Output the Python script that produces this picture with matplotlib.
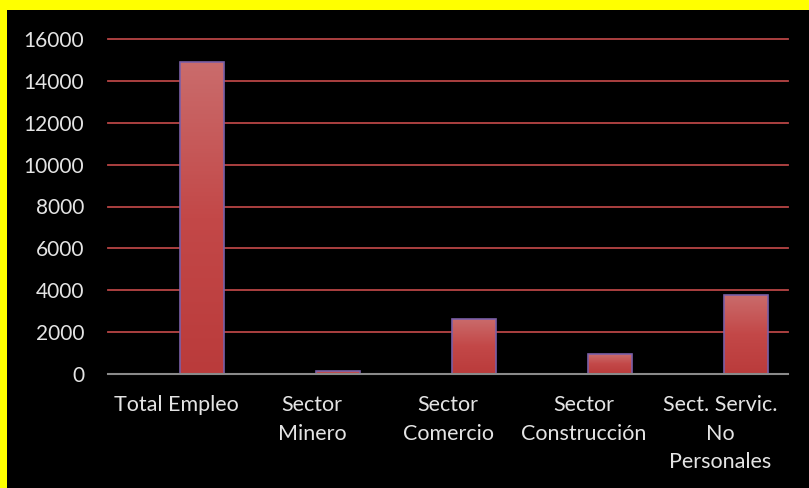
import matplotlib
matplotlib.use("Agg")
import matplotlib.pyplot as plt
import numpy as np
from matplotlib.patches import Rectangle

categories = ["Total Empleo", "Sector\nMinero", "Sector\nComercio",
              "Sector\nConstrucción", "Sect. Servic.\nNo\nPersonales"]
values = [14900, 140, 2640, 940, 3780]
yticks = [0, 2000, 4000, 6000, 8000, 10000, 12000, 14000, 16000]

plt.rcParams["font.family"] = ["Lato", "DejaVu Sans"]
text_color = "#E4E4E4"

fig = plt.figure(figsize=(8.09, 4.88), dpi=100, facecolor="black")
# yellow frame on left and top
fig.patches.append(Rectangle((0, 0), 7 / 809, 1, transform=fig.transFigure,
                             facecolor="#FFFF00", edgecolor="none", zorder=0))
fig.patches.append(Rectangle((0, 1 - 10 / 488), 1, 10 / 488, transform=fig.transFigure,
                             facecolor="#FFFF00", edgecolor="none", zorder=0))

ax = fig.add_axes([108 / 809, 114 / 488, 680 / 809, 335 / 488])
ax.set_facecolor("black")

x = np.arange(len(categories))
offset, width = 0.19, 0.32

# gradient image: light at top, darker at bottom
grad = np.linspace(0, 1, 256).reshape(-1, 1)
cmap = matplotlib.colors.LinearSegmentedColormap.from_list(
    "bar", ["#BA3B3B", "#C34848", "#CA6C6C"])

bars = ax.bar(x + offset, values, width=width, color="none",
              edgecolor="#7A5FA8", linewidth=1.2, zorder=3)
for b in bars:
    x0, y0 = b.get_x(), b.get_y()
    w, h = b.get_width(), b.get_height()
    im = ax.imshow(grad, cmap=cmap, origin="lower", aspect="auto",
                   extent=[x0, x0 + w, y0, y0 + h], zorder=2)
    im.set_clip_path(b)

ax.set_xlim(-0.5, len(categories) - 0.5)
ax.set_ylim(0, 16000)
ax.set_yticks(yticks)
ax.set_yticklabels([str(v) for v in yticks], fontsize=15, color=text_color)
ax.set_xticks(x)
ax.set_xticklabels(categories, fontsize=15.5, color=text_color, linespacing=1.55,
                   va="top")
ax.tick_params(axis="both", length=0)
ax.tick_params(axis="y", pad=17)
ax.tick_params(axis="x", pad=15)

for v in yticks[1:]:
    ax.axhline(v, color="#B84545", linewidth=1.3, zorder=1, clip_on=False)
ax.axhline(0, color="#8A8A8A", linewidth=1.5, zorder=4, clip_on=False)

for s in ax.spines.values():
    s.set_visible(False)

fig.savefig("out.png", dpi=100, facecolor="black")
